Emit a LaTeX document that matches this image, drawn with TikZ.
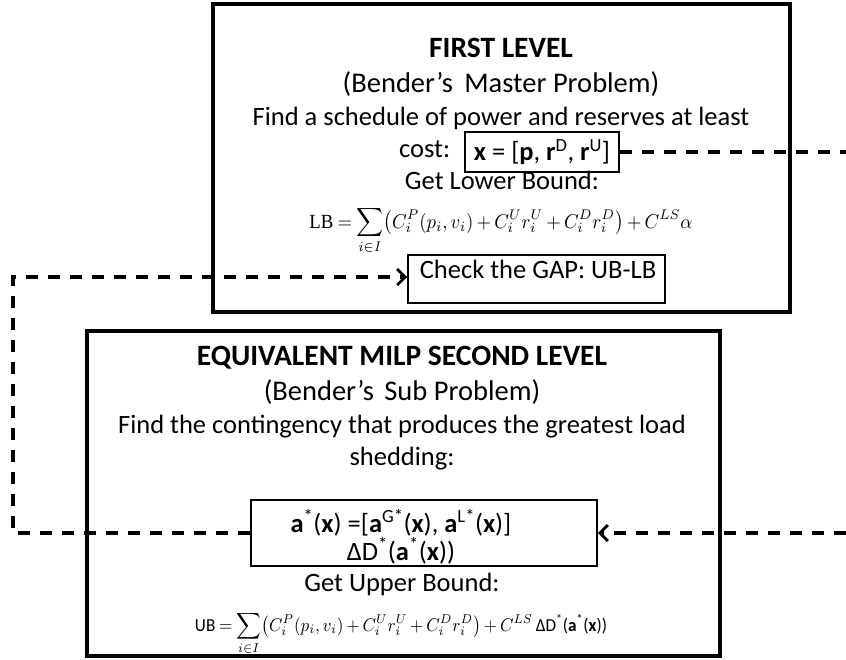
\documentclass[tikz,border=0pt]{standalone}
\usepackage{fontspec}
\usepackage{amsmath}
\usepackage{graphicx}
\setmainfont{Carlito}
\newfontfamily\serifb{Liberation Serif}
\usetikzlibrary{arrows.meta}
\tikzset{
  bigbox/.style={draw, line width=3.2pt, inner sep=0pt},
  smallbox/.style={draw, line width=1.6pt, inner sep=0pt},
  txt/.style={font=\fontsize{26.5}{30}\selectfont, inner sep=0pt, anchor=base},
  sub/.style={font=\fontsize{28.5}{32}\selectfont, inner sep=0pt, anchor=base},
  ttl/.style={font=\bfseries\fontsize{29.5}{32}\selectfont, inner sep=0pt, anchor=base},
  conn/.style={line width=3.2pt, dash pattern=on 12pt off 10pt},
  tip/.style={-{Straight Barb[length=8pt,width=16pt,line width=2.8pt]}}
}
\newcommand{\tightmath}{\medmuskip=3mu\thickmuskip=4mu}
\begin{document}
\begin{tikzpicture}[x=1pt,y=-1pt]
\useasboundingbox (0,0) rectangle (846,659);
% big boxes
\node[bigbox, minimum width=577pt, minimum height=308pt] (top) at (501.5,158) {};
\node[bigbox, minimum width=633pt, minimum height=325pt] (low) at (403.5,493.5) {};
% first level texts
\node[ttl] (t1) at (501,57) {FIRST LEVEL};
\node[sub] (t2) at (501,92) {(Bender’s\hspace{5pt} Master Problem)};
\node[txt] (t3) at (501,125) {Find a schedule of power and reserves at least};
\node[txt, anchor=base west] (t4) at (399,157) {cost:};
\node[smallbox, minimum width=154pt, minimum height=40pt, font=\fontsize{26.5}{30}\selectfont] (xbox) at (542,152)
  {\textbf{x} = [\textbf{p}, \textbf{r}\textsuperscript{D}, \textbf{r}\textsuperscript{U}]};
\node[txt] (t5) at (502,189) {Get Lower Bound:};
\node[inner sep=0pt, anchor=base] (lb) at (501,228) {\resizebox*{383pt}{48pt}{$\tightmath\text{\serifb LB} = \displaystyle\sum_{i\in I}\bigl(C_i^P(p_i,v_i) + C_i^U r_i^U + C_i^D r_i^D\bigr) + C^{LS}\alpha$}};
\node[smallbox, minimum width=257pt, minimum height=48pt] (chk) at (536.5,279) {};
\node[txt] (chktxt) at (538,278) {Check the GAP: UB-LB};
% second level texts
\node[ttl] (s1) at (402,365) {EQUIVALENT MILP SECOND LEVEL};
\node[sub] (s2) at (402,400) {(Bender’s\hspace{4pt} Sub Problem)};
\node[txt] (s3) at (402,433) {Find the contingency that produces the greatest load};
\node[txt] (s4) at (402,465) {shedding:};
\node[smallbox, minimum width=346pt, minimum height=66pt] (abox) at (424,533) {};
\node[txt] (a1) at (401,532) {\textbf{a}\textsuperscript{*}(\textbf{x}) =[\textbf{a}\textsuperscript{G*}(\textbf{x}), \textbf{a}\textsuperscript{L*}(\textbf{x})]};
\node[txt] (a2) at (401,560) {ΔD\textsuperscript{*}(\textbf{a}\textsuperscript{*}(\textbf{x}))};
\node[txt] (s5) at (402,591) {Get Upper Bound:};
\node[inner sep=0pt, anchor=base] (ub) at (401,631) {\resizebox*{412pt}{44pt}{$\tightmath\text{UB} = \displaystyle\sum_{i\in I}\bigl(C_i^P(p_i,v_i) + C_i^U r_i^U + C_i^D r_i^D\bigr) + C^{LS}\,\text{ΔD\textsuperscript{*}(\textbf{a}\textsuperscript{*}(\textbf{x}))}$}};
% connectors
\coordinate (r1) at (846,152);
\coordinate (r2) at (846,533);
\coordinate (c1) at (13,533);
\coordinate (c2) at (13,277);
\draw[conn] (xbox.east) -- (r1);
\draw[conn, tip] (r2) -- (abox.east);
\draw[conn, tip] (abox.west) -- (c1) -- (c2) -- (chk.west |- c2);
\end{tikzpicture}
\end{document}
